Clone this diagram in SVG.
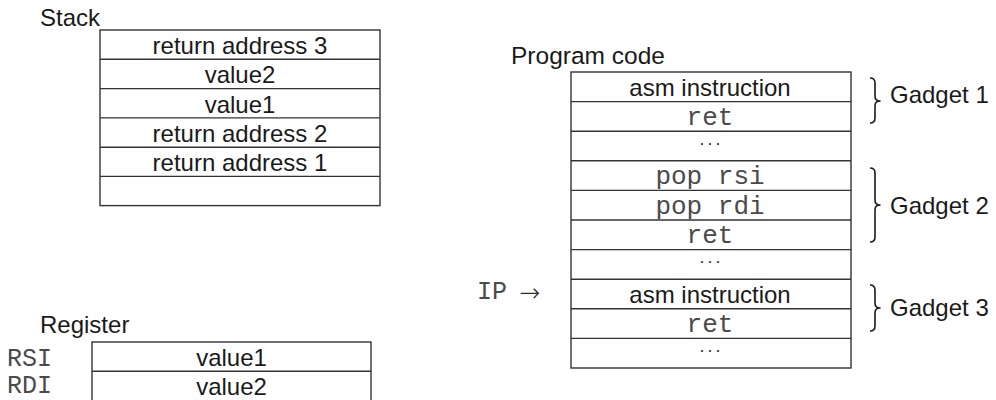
<svg xmlns="http://www.w3.org/2000/svg" width="996" height="400" viewBox="0 0 996 400">
<style>
  .box { fill: #ffffff; stroke: #333333; stroke-width: 1.4; }
  .sep { stroke: #333333; stroke-width: 1.4; }
  .sans { font-family: "Liberation Sans", Arial, sans-serif; font-size: 24px; fill: #1a1a1a; }
  .cell { font-family: "Liberation Sans", Arial, sans-serif; font-size: 24px; fill: #1a1a1a; text-anchor: middle; }
  .mono { font-family: "Liberation Mono", "Courier New", monospace; font-size: 25px; fill: #4a4a4a; }
  .monoc { font-family: "Liberation Mono", "Courier New", monospace; font-size: 26px; fill: #4a4a4a; text-anchor: middle; }
  .dots { font-family: "Liberation Sans", Arial, sans-serif; font-size: 12.5px; font-weight: bold; fill: #333333; text-anchor: middle; letter-spacing: 4.5px; }
  .arrow { font-family: "DejaVu Sans", sans-serif; font-size: 25px; font-weight: 200; fill: #2a2a2a; }
  .brace { fill: none; stroke: #1a1a1a; stroke-width: 1.6; stroke-linejoin: round; }
</style>
<rect width="996" height="400" fill="#ffffff"/>

<g id="stack">
  <text class="sans" x="40" y="26">Stack</text>
  <rect class="box" x="100" y="30" width="280" height="175.6"/>
  <line class="sep" x1="100" y1="59.3" x2="380" y2="59.3"/>
  <line class="sep" x1="100" y1="88.6" x2="380" y2="88.6"/>
  <line class="sep" x1="100" y1="117.9" x2="380" y2="117.9"/>
  <line class="sep" x1="100" y1="147.2" x2="380" y2="147.2"/>
  <line class="sep" x1="100" y1="176.4" x2="380" y2="176.4"/>
  <text class="cell" x="240" y="54">return address 3</text>
  <text class="cell" x="240" y="83.3">value2</text>
  <text class="cell" x="240" y="112.6">value1</text>
  <text class="cell" x="240" y="142">return address 2</text>
  <text class="cell" x="240" y="171.2">return address 1</text>
</g>

<g id="register">
  <text class="sans" x="40" y="333">Register</text>
  <rect class="box" x="92" y="342" width="279" height="62"/>
  <line class="sep" x1="92" y1="371.3" x2="371" y2="371.3"/>
  <text class="mono" x="7" y="366">RSI</text>
  <text class="mono" x="7" y="393">RDI</text>
  <text class="cell" x="231.5" y="366">value1</text>
  <text class="cell" x="231.5" y="395">value2</text>
</g>

<g id="program-code">
  <text class="sans" x="511" y="64" style="font-size:24.5px">Program code</text>
  <rect class="box" x="571" y="72" width="280" height="296"/>
  <line class="sep" x1="571" y1="101.6" x2="851" y2="101.6"/>
  <line class="sep" x1="571" y1="131.2" x2="851" y2="131.2"/>
  <line class="sep" x1="571" y1="160.8" x2="851" y2="160.8"/>
  <line class="sep" x1="571" y1="190.4" x2="851" y2="190.4"/>
  <line class="sep" x1="571" y1="220" x2="851" y2="220"/>
  <line class="sep" x1="571" y1="249.6" x2="851" y2="249.6"/>
  <line class="sep" x1="571" y1="279.2" x2="851" y2="279.2"/>
  <line class="sep" x1="571" y1="308.8" x2="851" y2="308.8"/>
  <line class="sep" x1="571" y1="338.4" x2="851" y2="338.4"/>
  <text class="cell" x="710" y="95.5">asm instruction</text>
  <text class="monoc" x="710" y="124.5">ret</text>
  <text class="dots" x="712.3" y="144.5">...</text>
  <text class="monoc" x="710" y="184.3">pop rsi</text>
  <text class="monoc" x="710" y="214">pop rdi</text>
  <text class="monoc" x="710" y="243">ret</text>
  <text class="dots" x="712.3" y="262.8">...</text>
  <text class="cell" x="710" y="302.7">asm instruction</text>
  <text class="monoc" x="710" y="331.8">ret</text>
  <text class="dots" x="712.3" y="351.6">...</text>
</g>

<g id="ip">
  <text class="mono" x="477" y="299">IP</text>
  <text class="arrow" x="519" y="301">→</text>
</g>

<g id="connectors">
  <path class="brace" d="M870,78 Q875,78 875,83 L875,96 Q875,101 880,101 Q875,101 875,106 L875,118 Q875,123 870,123"/>
  <path class="brace" d="M870,168 Q875,168 875,173 L875,200 Q875,205 880,205 Q875,205 875,210 L875,237 Q875,242 870,242"/>
  <path class="brace" d="M870,285 Q875,285 875,290 L875,303 Q875,308 880,308 Q875,308 875,313 L875,326 Q875,331 870,331"/>
</g>

<g id="gadget-labels">
  <text class="sans" x="890" y="103">Gadget 1</text>
  <text class="sans" x="890" y="214">Gadget 2</text>
  <text class="sans" x="890" y="316">Gadget 3</text>
</g>
</svg>
